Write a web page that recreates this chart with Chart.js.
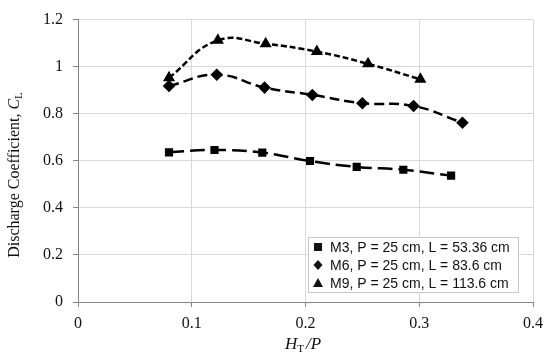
<!DOCTYPE html>
<html>
<head>
<meta charset="utf-8">
<script src="https://cdn.jsdelivr.net/npm/chart.js@4.4.1/dist/chart.umd.min.js"></script>
<style>
  html, body { margin: 0; padding: 0; background: #fff; }
</style>
</head>
<body>
<canvas id="chart" width="550" height="361"></canvas>
<script>
// === datos ===
const m3X = [0.080, 0.120, 0.162, 0.204, 0.245, 0.286, 0.328];
const m3Y = [0.636, 0.646, 0.635, 0.599, 0.574, 0.562, 0.537];

const m6X = [0.080, 0.122, 0.164, 0.206, 0.250, 0.295, 0.338];
const m6Y = [0.918, 0.966, 0.911, 0.880, 0.845, 0.833, 0.762];

const m9X = [0.080, 0.123, 0.165, 0.210, 0.255, 0.301];
const m9Y = [0.953, 1.112, 1.097, 1.064, 1.012, 0.946];

const seriesLabels = [
    "M3, P = 25 cm, L = 53.36 cm",
    "M6, P = 25 cm, L = 83.6 cm",
    "M9, P = 25 cm, L = 113.6 cm"
];

const xTicks = [0, 0.1, 0.2, 0.3, 0.4];
const yTicks = [0, 0.2, 0.4, 0.6, 0.8, 1, 1.2];

function puntos(xs, ys) {
    return xs.map((x, i) => ({ x: x, y: ys[i] }));
}

const serifFont = "'Liberation Serif', 'Times New Roman', serif";

// Titulos de ejes con subindices y leyenda dentro del area
const extrasPlugin = {
    id: 'extras',
    afterDraw(chart) {
        const ctx = chart.ctx;
        const ca = chart.chartArea;
        ctx.save();
        ctx.fillStyle = '#111';
        ctx.textBaseline = 'alphabetic';

        // titulo eje Y
        ctx.save();
        ctx.translate(19, 175);
        ctx.rotate(-Math.PI / 2);
        const p1 = "Discharge Coefficient, ";
        ctx.font = "16px " + serifFont;
        const w1 = ctx.measureText(p1).width;
        ctx.font = "italic 16px " + serifFont;
        const w2 = ctx.measureText("C").width;
        ctx.font = "11px " + serifFont;
        const w3 = ctx.measureText("L").width;
        let x0 = -(w1 + w2 + w3) / 2;
        ctx.textAlign = 'left';
        ctx.font = "16px " + serifFont;
        ctx.fillText(p1, x0, 0);
        ctx.font = "italic 16px " + serifFont;
        ctx.fillText("C", x0 + w1, 0);
        ctx.font = "11px " + serifFont;
        ctx.fillText("L", x0 + w1 + w2, 3);
        ctx.restore();

        // titulo eje X
        ctx.font = "italic 17px " + serifFont;
        const a = ctx.measureText("H").width;
        ctx.font = "11px " + serifFont;
        const b = ctx.measureText("T").width;
        ctx.font = "italic 17px " + serifFont;
        const c = ctx.measureText("/P").width;
        let xs = 303 - (a + b + c + 2) / 2;
        const yb = 349;
        ctx.textAlign = 'left';
        ctx.font = "italic 17px " + serifFont;
        ctx.fillText("H", xs, yb);
        ctx.font = "11px " + serifFont;
        ctx.fillText("T", xs + a, yb + 3);
        ctx.font = "italic 17px " + serifFont;
        ctx.fillText("/P", xs + a + b + 2, yb);

        // leyenda
        const bw = 210, bh = 55;
        const bx = ca.right - 15 - bw;
        const by = ca.bottom - 10 - bh;
        ctx.fillStyle = '#fff';
        ctx.fillRect(bx, by, bw, bh);
        ctx.strokeStyle = '#c8c8c8';
        ctx.lineWidth = 1;
        ctx.strokeRect(bx + 0.5, by + 0.5, bw, bh);
        ctx.font = "14px 'Liberation Sans', Arial, sans-serif";
        ctx.textBaseline = 'middle';
        ctx.fillStyle = '#111';
        chart.data.datasets.forEach((ds, i) => {
            const cy = by + 10 + i * 18;
            const mx = bx + 10;
            ctx.beginPath();
            if (ds.pointStyle === 'rect') {
                ctx.rect(mx - 4, cy - 4, 8, 8);
            } else if (ds.pointStyle === 'rectRot') {
                ctx.moveTo(mx, cy - 5); ctx.lineTo(mx + 4.5, cy);
                ctx.lineTo(mx, cy + 5); ctx.lineTo(mx - 4.5, cy);
                ctx.closePath();
            } else {
                ctx.moveTo(mx, cy - 5); ctx.lineTo(mx + 5, cy + 4);
                ctx.lineTo(mx - 5, cy + 4); ctx.closePath();
            }
            ctx.fill();
            ctx.fillText(ds.label, bx + 22, cy + 1);
        });
        ctx.restore();
    }
};

const comunes = {
    borderColor: '#000',
    backgroundColor: '#000',
    pointBackgroundColor: '#000',
    pointBorderColor: '#000',
    borderWidth: 2.5,
    tension: 0.45,
    showLine: true,
    fill: false
};

new Chart(document.getElementById('chart'), {
    type: 'scatter',
    data: {
        datasets: [
            Object.assign({}, comunes, {
                label: seriesLabels[0], data: puntos(m3X, m3Y),
                pointStyle: 'rect', pointRadius: 4, borderDash: [15, 6]
            }),
            Object.assign({}, comunes, {
                label: seriesLabels[1], data: puntos(m6X, m6Y),
                pointStyle: 'rectRot', pointRadius: 4.5, borderDash: [10, 5]
            }),
            Object.assign({}, comunes, {
                label: seriesLabels[2], data: puntos(m9X, m9Y),
                pointStyle: 'triangle', pointRadius: 4.5, borderDash: [6, 3]
            })
        ]
    },
    options: {
        responsive: false,
        animation: false,
        layout: { padding: { top: 11, right: 13, left: 0, bottom: 0 } },
        plugins: {
            legend: { display: false },
            tooltip: { enabled: false }
        },
        scales: {
            x: {
                type: 'linear',
                min: xTicks[0],
                max: xTicks[xTicks.length - 1],
                afterBuildTicks: s => { s.ticks = xTicks.map(v => ({ value: v })); },
                afterFit: s => { s.height = 59; },
                ticks: {
                    callback: v => String(+v.toFixed(1)),
                    color: '#111',
                    padding: 7,
                    font: { family: serifFont, size: 16 }
                },
                grid: { color: '#d9d9d9', tickColor: '#868686', tickLength: 5, lineWidth: 1 },
                border: { color: '#868686', width: 1 }
            },
            y: {
                type: 'linear',
                min: yTicks[0],
                max: yTicks[yTicks.length - 1],
                afterBuildTicks: s => { s.ticks = yTicks.map(v => ({ value: v })); },
                afterFit: s => { s.width = 78; },
                ticks: {
                    callback: v => String(+v.toFixed(1)),
                    color: '#111',
                    padding: 10,
                    font: { family: serifFont, size: 16 }
                },
                grid: { color: '#d9d9d9', tickColor: '#868686', tickLength: 5, lineWidth: 1 },
                border: { color: '#868686', width: 1 }
            }
        }
    },
    plugins: [extrasPlugin]
});
</script>
</body>
</html>
